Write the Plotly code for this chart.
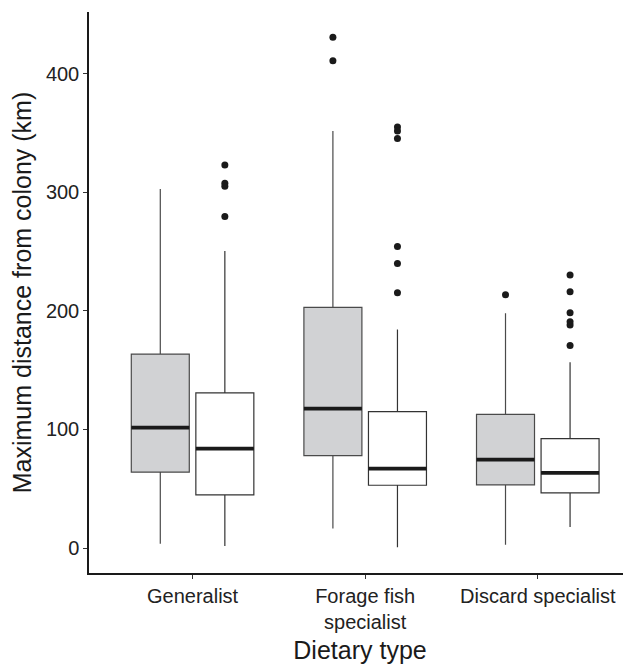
import plotly.graph_objects as go

categories = ["Generalist", "Forage fish<br>specialist", "Discard specialist"]
y_ticks = [0, 100, 200, 300, 400]

# grey boxes (first group)
grey_q1 = [64.0, 78.0, 53.3]
grey_median = [101.6, 117.6, 74.6]
grey_q3 = [163.6, 203.0, 112.8]
grey_low = [3.6, 16.5, 2.8]
grey_high = [302.8, 351.7, 197.9]
grey_outliers = [[], [430.8, 410.9], [213.6]]

# white boxes (second group)
white_q1 = [44.9, 53.0, 46.6]
white_median = [83.9, 67.0, 63.4]
white_q3 = [130.8, 115.0, 92.3]
white_low = [1.7, 0.8, 17.7]
white_high = [250.4, 184.4, 156.6]
white_outliers = [[323.0, 307.6, 305.1, 279.6],
                  [355.0, 351.7, 345.3, 254.3, 240.0, 215.3],
                  [230.2, 216.1, 198.4, 190.8, 188.0, 170.9]]

DODGE = 0.187
BOX_W = 0.336
idx = list(range(len(categories)))

fig = go.Figure()

def add_group(offset, q1, med, q3, lo, hi, outl, fill, edge):
    xs = [i + offset for i in idx]
    fig.add_trace(go.Box(
        x=xs, q1=q1, median=med, q3=q3, lowerfence=lo, upperfence=hi,
        width=BOX_W, fillcolor=fill,
        line=dict(color=edge, width=1.2),
        whiskerwidth=0, boxpoints=False, showlegend=False, hoverinfo="skip"))
    # thick median lines
    mx, my = [], []
    for x, m in zip(xs, med):
        mx += [x - BOX_W / 2, x + BOX_W / 2, None]
        my += [m, m, None]
    fig.add_trace(go.Scatter(x=mx, y=my, mode="lines",
                             line=dict(color="#1a1a1a", width=3.8),
                             showlegend=False, hoverinfo="skip"))
    ox, oy = [], []
    for x, vals in zip(xs, outl):
        for v in vals:
            ox.append(x)
            oy.append(v)
    fig.add_trace(go.Scatter(x=ox, y=oy, mode="markers",
                             marker=dict(color="#1a1a1a", size=7),
                             showlegend=False, hoverinfo="skip"))

add_group(-DODGE, grey_q1, grey_median, grey_q3, grey_low, grey_high, grey_outliers, "#d1d2d4", "#4a4a4a")
add_group(DODGE, white_q1, white_median, white_q3, white_low, white_high, white_outliers, "#ffffff", "#333333")

font = "Liberation Sans, Arial, Helvetica, sans-serif"
fig.update_layout(
    width=623, height=659,
    margin=dict(l=81, r=0, t=4, b=94, pad=0),
    plot_bgcolor="white", paper_bgcolor="white",
    font=dict(family=font, color="#1a1a1a"),
    xaxis=dict(
        range=[-0.6, 2.54], tickmode="array", tickvals=idx, ticktext=categories,
        showgrid=False, zeroline=False, showline=True, linecolor="#1a1a1a", linewidth=1.5,
        ticks="outside", ticklen=4, tickcolor="#333", tickfont=dict(size=20, color="#222"),
        automargin=False,
        title=dict(text="Dietary type", font=dict(size=25, color="#1a1a1a"), standoff=10),
    ),
    yaxis=dict(
        range=[-21, 452], tickvals=y_ticks,
        showgrid=False, zeroline=False, showline=True, linecolor="#1a1a1a", linewidth=1.5,
        ticks="outside", ticklen=4, tickcolor="#333", tickfont=dict(size=20, color="#222"),
        automargin=False,
        title=dict(text="Maximum distance from colony (km)", font=dict(size=25, color="#1a1a1a"), standoff=10),
    ),
)

fig.write_html("out.html")
